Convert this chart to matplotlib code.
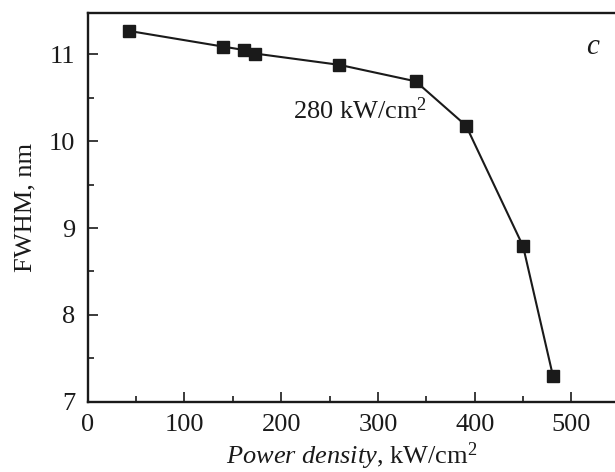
import matplotlib
matplotlib.use("Agg")
import matplotlib.pyplot as plt
from matplotlib.ticker import MultipleLocator

plt.rcParams["font.family"] = ["Liberation Serif", "DejaVu Serif"]
plt.rcParams["mathtext.fontset"] = "custom"
plt.rcParams["mathtext.rm"] = "Liberation Serif"
plt.rcParams["mathtext.it"] = "Liberation Serif:italic"

# FWHM vs. pump power density (panel c)
power_density = [43, 140, 162, 173, 260, 339, 391, 450, 481]
fwhm_nm = [11.27, 11.09, 11.05, 11.01, 10.88, 10.69, 10.18, 8.79, 7.29]

annotation = "280 kW/cm$^2$"
panel_label = "c"
ink = "#1a1a1a"

fig = plt.figure(figsize=(6.15, 4.72), dpi=100)
ax = fig.add_axes([0.1426, 0.149, 0.8574, 0.824])

ax.plot(power_density, fwhm_nm, "-", color=ink, lw=1.5,
        marker="s", ms=8, mfc=ink, mec=ink)

ax.set_xlim(0, 545)
ax.set_ylim(7, 11.48)
ax.xaxis.set_major_locator(MultipleLocator(100))
ax.xaxis.set_minor_locator(MultipleLocator(50))
ax.yaxis.set_major_locator(MultipleLocator(1))
ax.yaxis.set_minor_locator(MultipleLocator(0.5))

for side in ("left", "bottom", "top"):
    ax.spines[side].set_linewidth(1.7)
    ax.spines[side].set_color(ink)
ax.spines["right"].set_visible(False)

ax.tick_params(which="both", direction="in", colors=ink, width=1.2,
               labelsize=19, pad=9, top=False, right=False)
ax.tick_params(which="major", length=7)
ax.tick_params(which="minor", length=4.5)

ax.set_xlabel(r"$\mathit{Power\ density}$, kW/cm$^2$", fontsize=19, color=ink, labelpad=3)
ax.set_ylabel("FWHM, nm", fontsize=19, color=ink, labelpad=9)

ax.text(281, 10.26, annotation, fontsize=19, color=ink, ha="center", va="baseline")
ax.text(522, 11.08, panel_label, fontsize=21, color=ink, style="italic",
        ha="center", va="center")

fig.savefig("out.png", dpi=100)
